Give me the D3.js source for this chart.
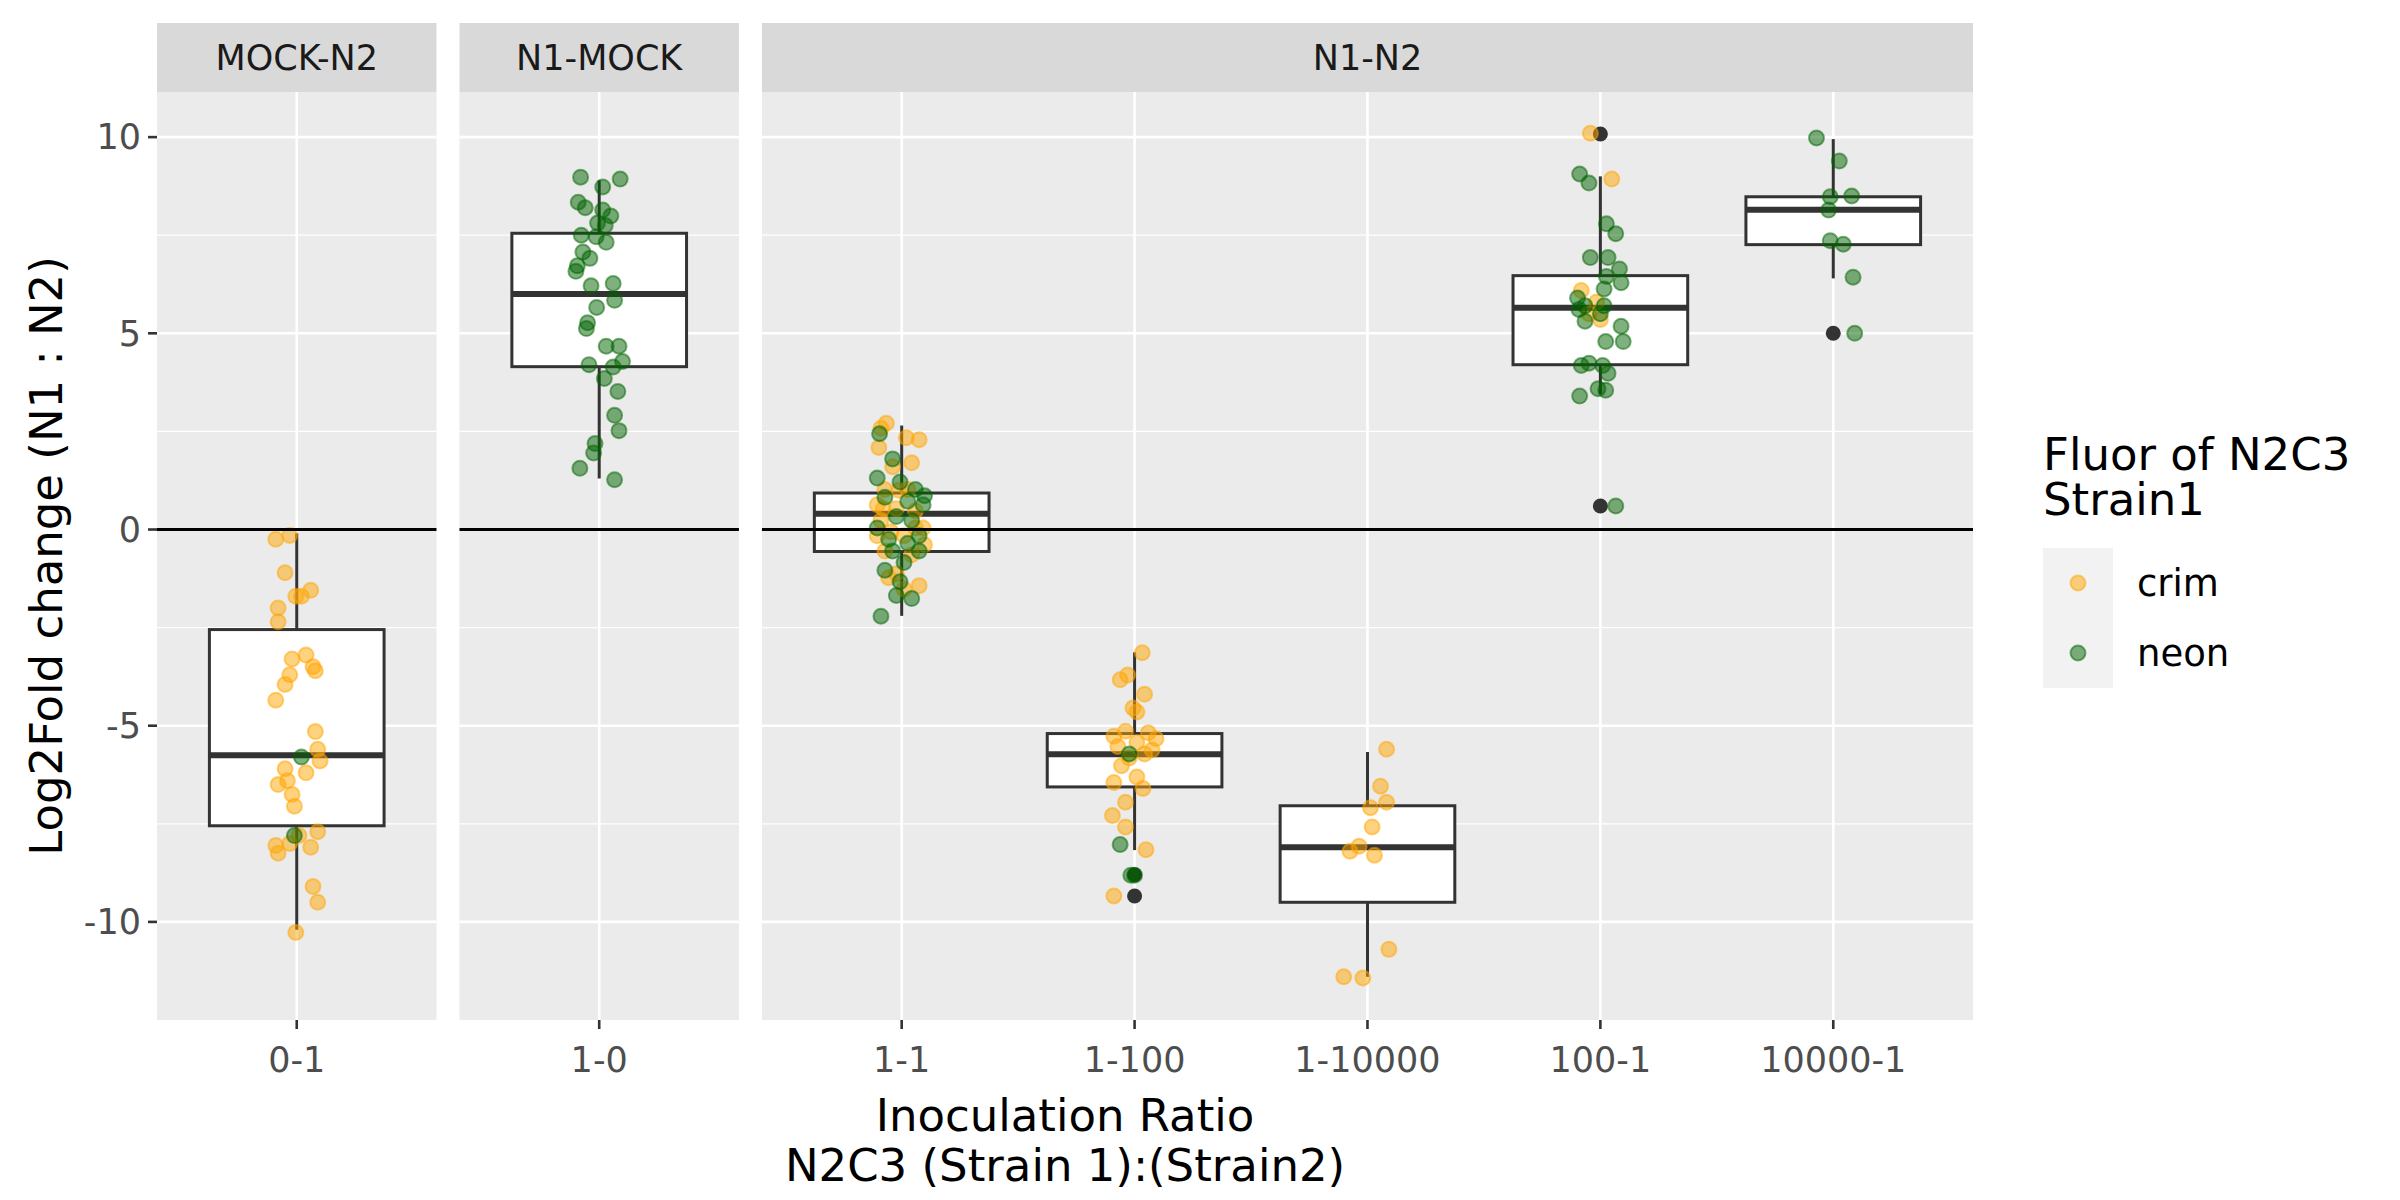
<!DOCTYPE html>
<html lang="en">
<head>
<meta charset="UTF-8">
<script src="https://d3js.org/d3.v7.min.js"></script>
<style>
  body { margin: 0; background: #fff; font-family: "DejaVu Sans", sans-serif; }
</style>
</head>
<body>
<div id="chart"></div>
<script>
// facets and their x categories
const panels = [
  { name: "MOCK-N2", cats: ["0-1"] },
  { name: "N1-MOCK", cats: ["1-0"] },
  { name: "N1-N2", cats: ["1-1", "1-100", "1-10000", "100-1", "10000-1"] }
];

// box stats: [lowWhisker, q1, median, q3, highWhisker]
const boxStats = {
  "0-1": [-10.2, -7.55, -5.75, -2.55, -0.1],
  "1-0": [1.3, 4.15, 6.0, 7.55, 8.9],
  "1-1": [-2.2, -0.56, 0.4, 0.93, 2.65],
  "1-100": [-8.17, -6.56, -5.73, -5.2, -3.13],
  "1-10000": [-11.4, -9.5, -8.1, -7.04, -5.67],
  "100-1": [3.45, 4.2, 5.65, 6.47, 9.0],
  "10000-1": [6.4, 7.26, 8.15, 8.48, 9.95]
};
const outliers = {
  "1-100": [-8.8, -9.34],
  "100-1": [10.08, 0.6],
  "10000-1": [5.0]
};

// jittered points: [x offset in category steps, log2 fold change, fluor]
const pts01 = [
  [-0.09,-0.25,"crim"],[-0.03,-0.15,"crim"],[-0.05,-1.1,"crim"],[-0.004,-1.7,"crim"],[0.02,-1.7,"crim"],
  [0.06,-1.55,"crim"],[-0.08,-2.0,"crim"],[-0.08,-2.35,"crim"],[-0.02,-3.3,"crim"],[0.04,-3.2,"crim"],
  [0.07,-3.5,"crim"],[0.08,-3.6,"crim"],[-0.03,-3.7,"crim"],[-0.05,-3.95,"crim"],[-0.09,-4.35,"crim"],
  [0.08,-5.15,"crim"],[0.09,-5.6,"crim"],[0.1,-5.9,"crim"],[-0.05,-6.1,"crim"],[0.04,-6.2,"crim"],
  [-0.04,-6.4,"crim"],[-0.08,-6.5,"crim"],[-0.02,-6.75,"crim"],[-0.01,-7.05,"crim"],[0.09,-7.7,"crim"],
  [0.01,-7.8,"crim"],[-0.09,-8.05,"crim"],[-0.03,-8.0,"crim"],[0.06,-8.1,"crim"],[-0.08,-8.25,"crim"],
  [0.07,-9.1,"crim"],[0.09,-9.5,"crim"],[-0.004,-10.27,"crim"],
  [0.02,-5.8,"neon"],[-0.01,-7.8,"neon"]
];
const pts10 = [
  [-0.08,8.98],[0.09,8.93],[0.015,8.73],[-0.09,8.34],[-0.06,8.2],[0.015,8.14],[0.05,7.99],[-0.007,7.81],
  [0.026,7.75],[-0.077,7.5],[-0.013,7.46],[0.03,7.32],[-0.07,7.07],[-0.04,6.91],[-0.094,6.72],[-0.1,6.58],
  [-0.035,6.21],[0.06,6.27],[0.066,5.84],[-0.011,5.66],[-0.05,5.27],[-0.055,5.12],[0.085,4.67],[0.03,4.67],
  [0.1,4.28],[-0.044,4.2],[0.06,4.14],[0.022,3.85],[0.08,3.52],[0.066,2.91],[0.085,2.52],[-0.018,2.19],
  [-0.024,1.95],[-0.083,1.56],[0.066,1.27]
].map(d => [d[0], d[1], "neon"]);
const pts11 = [
  [-0.066,2.71,"crim"],[-0.089,2.58,"crim"],[-0.098,2.09,"crim"],[0.02,2.34,"crim"],[0.075,2.29,"crim"],
  [0.043,1.7,"crim"],[-0.039,1.6,"crim"],[-0.072,1.02,"crim"],[0.026,1.02,"crim"],[-0.105,0.63,"crim"],
  [-0.023,0.53,"crim"],[0.059,0.47,"crim"],[-0.089,0.23,"crim"],[0.092,0.04,"crim"],[-0.046,-0.06,"crim"],
  [0.01,-0.16,"crim"],[0.098,-0.39,"crim"],[-0.072,-0.55,"crim"],[0.043,-0.64,"crim"],[-0.023,-1.13,"crim"],
  [-0.056,-1.23,"crim"],[0.075,-1.43,"crim"],[0.01,-1.52,"crim"],[-0.105,-0.16,"crim"],[0.059,0.04,"crim"],
  [-0.013,1.0,"crim"],[-0.079,0.53,"crim"],
  [-0.095,2.44,"neon"],[-0.039,1.8,"neon"],[-0.105,1.31,"neon"],[-0.007,1.21,"neon"],[0.059,1.02,"neon"],
  [0.098,0.86,"neon"],[-0.072,0.82,"neon"],[0.026,0.72,"neon"],[0.092,0.63,"neon"],[-0.023,0.33,"neon"],
  [0.043,0.23,"neon"],[-0.105,0.04,"neon"],[-0.056,-0.25,"neon"],[0.026,-0.35,"neon"],[0.075,-0.55,"neon"],
  [0.01,-0.84,"neon"],[-0.072,-1.04,"neon"],[-0.007,-1.33,"neon"],[-0.023,-1.68,"neon"],[0.043,-1.76,"neon"],
  [-0.089,-2.21,"neon"],[0.075,-0.16,"neon"],[-0.039,-0.55,"neon"]
];
const pts1100 = [
  [0.033,-3.14,"crim"],[-0.03,-3.71,"crim"],[-0.062,-3.83,"crim"],[0.043,-4.2,"crim"],[-0.007,-4.55,"crim"],
  [0.01,-4.65,"crim"],[-0.089,-5.27,"crim"],[-0.039,-5.14,"crim"],[0.059,-5.18,"crim"],[0.092,-5.33,"crim"],
  [0.01,-5.43,"crim"],[-0.072,-5.53,"crim"],[0.075,-5.62,"crim"],[0.043,-5.72,"crim"],[-0.023,-5.82,"crim"],
  [-0.056,-6.02,"crim"],[0.01,-6.31,"crim"],[-0.089,-6.45,"crim"],[0.036,-6.6,"crim"],[-0.039,-6.95,"crim"],
  [-0.095,-7.29,"crim"],[-0.039,-7.58,"crim"],[0.049,-8.16,"crim"],[-0.089,-9.34,"crim"],
  [-0.023,-5.72,"neon"],[-0.062,-8.03,"neon"],[0,-8.81,"neon"],[-0.016,-8.81,"neon"]
];
const pts110000 = [
  [0.082,-5.6],[0.056,-6.54],[0.082,-6.95],[0.013,-7.09],[0.02,-7.58],[-0.036,-8.07],[-0.075,-8.2],
  [0.03,-8.3],[0.092,-10.7],[-0.102,-11.4],[-0.02,-11.43]
].map(d => [d[0], d[1], "crim"]);
const pts1001 = [
  [-0.043,10.1,"crim"],[0.049,8.93,"crim"],[-0.082,6.09,"crim"],[-0.049,5.5,"crim"],[0,5.35,"crim"],[-0.016,5.8,"crim"],
  [-0.089,9.06,"neon"],[-0.049,8.83,"neon"],[0.026,7.79,"neon"],[0.066,7.54,"neon"],[-0.043,6.93,"neon"],
  [0.033,6.93,"neon"],[0.082,6.64,"neon"],[0.026,6.45,"neon"],[0.089,6.29,"neon"],[0.016,6.13,"neon"],
  [-0.098,5.9,"neon"],[-0.092,5.61,"neon"],[-0.066,5.7,"neon"],[0.016,5.7,"neon"],[0,5.5,"neon"],
  [-0.066,5.31,"neon"],[0.089,5.18,"neon"],[0.023,4.79,"neon"],[0.098,4.79,"neon"],[-0.082,4.18,"neon"],
  [-0.049,4.24,"neon"],[0.01,4.18,"neon"],[0.033,3.98,"neon"],[-0.01,3.59,"neon"],[-0.089,3.4,"neon"],
  [0.023,3.55,"neon"],[0.066,0.6,"neon"]
];
const pts100001 = [
  [-0.072,9.98],[0.026,9.39],[0.079,8.5],[-0.013,8.48],[-0.02,8.14],[-0.013,7.36],[0.043,7.27],
  [0.085,6.43],[0.092,5.0]
].map(d => [d[0], d[1], "neon"]);
const points = {
  "0-1": pts01, "1-0": pts10, "1-1": pts11, "1-100": pts1100,
  "1-10000": pts110000, "100-1": pts1001, "10000-1": pts100001
};

const fluors = ["crim", "neon"];
const fluorColors = ["#FFA500", "#006400"];
const yTicks = [-10, -5, 0, 5, 10];
const yMinor = [-7.5, -2.5, 2.5, 7.5];

const W = 2400, H = 1200;
const plotLeft = 157, plotRight = 1973, gap = 23;
const stripTop = 23, stripBottom = 92, plotBottom = 1020;
const font = "DejaVu Sans, sans-serif";

const svg = d3.select("#chart").append("svg")
  .attr("width", W).attr("height", H)
  .style("font-family", font);

const y = d3.scaleLinear().domain([-12.5, 11.15]).range([plotBottom, stripBottom]);
const color = d3.scaleOrdinal().domain(fluors).range(fluorColors);

const nCats = d3.sum(panels, p => p.cats.length);
const step = (plotRight - plotLeft - gap * (panels.length - 1)) / (nCats + panels.length * 1.2 - panels.length);
let cursor = plotLeft;

panels.forEach((p, pi) => {
  const w = step * (p.cats.length - 1 + 1.2);
  const x = d3.scalePoint().domain(p.cats).range([cursor, cursor + w]).padding(0.6);
  const g = svg.append("g");

  g.append("rect").attr("x", cursor).attr("y", stripBottom).attr("width", w)
    .attr("height", plotBottom - stripBottom).attr("fill", "#EBEBEB");
  g.append("rect").attr("x", cursor).attr("y", stripTop).attr("width", w)
    .attr("height", stripBottom - stripTop).attr("fill", "#D9D9D9");
  g.append("text").attr("x", cursor + w / 2).attr("y", (stripTop + stripBottom) / 2)
    .attr("dy", "0.35em").attr("text-anchor", "middle").attr("font-size", 35)
    .attr("fill", "#1A1A1A").text(p.name);

  g.selectAll(".minor").data(yMinor).join("line")
    .attr("x1", cursor).attr("x2", cursor + w).attr("y1", d => y(d)).attr("y2", d => y(d))
    .attr("stroke", "#fff").attr("stroke-width", 1.3);
  g.selectAll(".major").data(yTicks).join("line")
    .attr("x1", cursor).attr("x2", cursor + w).attr("y1", d => y(d)).attr("y2", d => y(d))
    .attr("stroke", "#fff").attr("stroke-width", 2.6);
  g.selectAll(".vmajor").data(p.cats).join("line")
    .attr("x1", d => x(d)).attr("x2", d => x(d)).attr("y1", stripBottom).attr("y2", plotBottom)
    .attr("stroke", "#fff").attr("stroke-width", 2.6);

  // x axis ticks + labels
  g.selectAll(".xt").data(p.cats).join("line")
    .attr("x1", d => x(d)).attr("x2", d => x(d)).attr("y1", plotBottom).attr("y2", plotBottom + 9)
    .attr("stroke", "#333").attr("stroke-width", 2.6);
  g.selectAll(".xl").data(p.cats).join("text")
    .attr("x", d => x(d)).attr("y", plotBottom + 52).attr("text-anchor", "middle")
    .attr("font-size", 35).attr("fill", "#4D4D4D").text(d => d);

  const bw = step * 0.75;
  p.cats.forEach(c => {
    const [lo, q1, med, q3, hi] = boxStats[c];
    const cx = x(c);
    g.append("line").attr("x1", cx).attr("x2", cx).attr("y1", y(hi)).attr("y2", y(q3))
      .attr("stroke", "#333").attr("stroke-width", 3);
    g.append("line").attr("x1", cx).attr("x2", cx).attr("y1", y(q1)).attr("y2", y(lo))
      .attr("stroke", "#333").attr("stroke-width", 3);
    g.append("rect").attr("x", cx - bw / 2).attr("y", y(q3)).attr("width", bw)
      .attr("height", y(q1) - y(q3)).attr("fill", "#fff").attr("stroke", "#333").attr("stroke-width", 3);
    g.append("line").attr("x1", cx - bw / 2).attr("x2", cx + bw / 2).attr("y1", y(med)).attr("y2", y(med))
      .attr("stroke", "#333").attr("stroke-width", 6);
    g.selectAll(null).data(outliers[c] || []).join("circle")
      .attr("cx", cx).attr("cy", d => y(d)).attr("r", 7.5).attr("fill", "#333");
    g.selectAll(null).data(points[c]).join("circle")
      .attr("cx", d => cx + d[0] * step).attr("cy", d => y(d[1])).attr("r", 7.5)
      .attr("fill", d => color(d[2])).attr("fill-opacity", 0.5)
      .attr("stroke", d => color(d[2])).attr("stroke-opacity", 0.5).attr("stroke-width", 2);
  });

  g.append("line").attr("x1", cursor).attr("x2", cursor + w).attr("y1", y(0)).attr("y2", y(0))
    .attr("stroke", "#000").attr("stroke-width", 2.8);

  if (pi === 0) {
    g.selectAll(".yt").data(yTicks).join("line")
      .attr("x1", cursor - 9).attr("x2", cursor).attr("y1", d => y(d)).attr("y2", d => y(d))
      .attr("stroke", "#333").attr("stroke-width", 2.6);
    g.selectAll(".yl").data(yTicks).join("text")
      .attr("x", cursor - 16).attr("y", d => y(d)).attr("dy", "0.35em").attr("text-anchor", "end")
      .attr("font-size", 35).attr("fill", "#4D4D4D").text(d => d);
  }
  cursor += w + gap;
});

// axis titles
svg.append("text").attr("x", 1065).attr("y", 1131).attr("text-anchor", "middle")
  .attr("font-size", 45).attr("fill", "#000").text("Inoculation Ratio");
svg.append("text").attr("x", 1065).attr("y", 1181).attr("text-anchor", "middle")
  .attr("font-size", 45).attr("fill", "#000").text("N2C3 (Strain 1):(Strain2)");
svg.append("text").attr("transform", `translate(46,${(stripBottom + plotBottom) / 2}) rotate(-90)`)
  .attr("dy", "0.35em").attr("text-anchor", "middle")
  .attr("font-size", 45).attr("fill", "#000").text("Log2Fold change (N1 : N2)");

// legend
const lg = svg.append("g").attr("transform", "translate(2043,0)");
lg.append("text").attr("y", 470).attr("font-size", 45).text("Fluor of N2C3");
lg.append("text").attr("y", 515).attr("font-size", 45).text("Strain1");
fluors.forEach((f, i) => {
  const top = 548 + i * 70;
  lg.append("rect").attr("x", 0).attr("y", top).attr("width", 70).attr("height", 70).attr("fill", "#F2F2F2");
  lg.append("circle").attr("cx", 35).attr("cy", top + 35).attr("r", 7.5)
    .attr("fill", color(f)).attr("fill-opacity", 0.5)
    .attr("stroke", color(f)).attr("stroke-opacity", 0.5).attr("stroke-width", 2);
  lg.append("text").attr("x", 94).attr("y", top + 35).attr("dy", "0.35em")
    .attr("font-size", 37).attr("fill", "#000").text(f);
});
</script>
</body>
</html>
